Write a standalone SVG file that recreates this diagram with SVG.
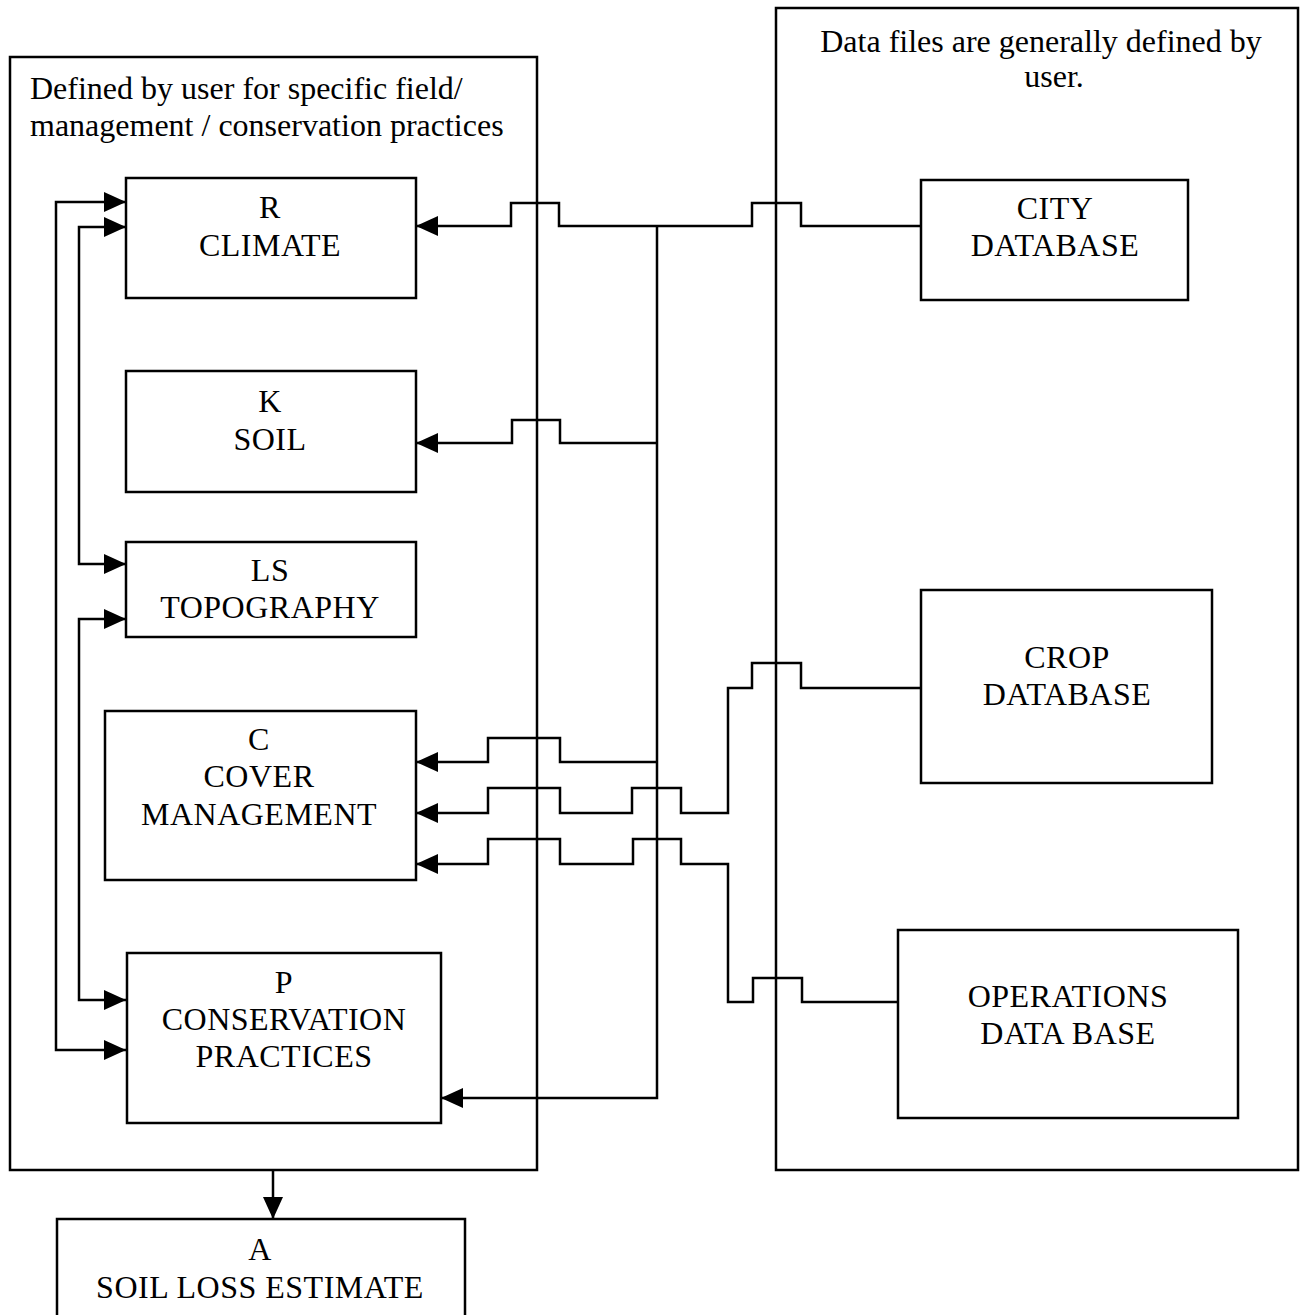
<svg xmlns="http://www.w3.org/2000/svg" width="1309" height="1315" viewBox="0 0 1309 1315">
<defs>
<style>
.box{fill:none;stroke:#000;stroke-width:2.5}
.cn{fill:none;stroke:#000;stroke-width:2.5}
text{font-family:"Liberation Serif","Times New Roman",serif;font-size:32px;fill:#000}
.c{text-anchor:middle}
.k{letter-spacing:0.5px}
</style>
<marker id="ah" viewBox="0 0 22 20" refX="22" refY="10" markerWidth="22" markerHeight="20" markerUnits="userSpaceOnUse" orient="auto-start-reverse">
<path d="M0,0 L22,10 L0,20 z" fill="#000"/>
</marker>
</defs>
<rect width="1309" height="1315" fill="#fff"/>
<g id="user-container">
<rect class="box" x="10" y="57" width="527" height="1113"/>
<text x="30" y="99">Defined by user for specific field/</text>
<text x="30" y="136">management / conservation practices</text>
</g>
<g id="data-container">
<rect class="box" x="776" y="8" width="522" height="1162"/>
<text class="c" x="1041" y="52">Data files are generally defined by</text>
<text class="c" x="1054" y="87">user.</text>
</g>
<g id="connectors">
<path class="cn" marker-end="url(#ah)" d="M921,226 H801 V203 H752 V226 H559 V203 H511 V226 H416"/>
<path class="cn" marker-end="url(#ah)" d="M657,226 V1098 H441"/>
<path class="cn" marker-end="url(#ah)" d="M657,443 H560 V420 H512 V443 H416"/>
<path class="cn" marker-end="url(#ah)" d="M657,762 H560 V738 H488 V762 H416"/>
<path class="cn" marker-end="url(#ah)" d="M921,688 H801 V663 H752 V688 H728 V813 H681 V788 H632 V813 H560 V788 H488 V813 H416"/>
<path class="cn" marker-end="url(#ah)" d="M898,1002 H802 V978 H753 V1002 H728 V864 H681 V839 H633 V864 H560 V839 H488 V864 H416"/>
<path class="cn" marker-start="url(#ah)" marker-end="url(#ah)" d="M126,202 H56 V1050 H126"/>
<path class="cn" marker-start="url(#ah)" marker-end="url(#ah)" d="M126,227 H79 V564 H126"/>
<path class="cn" marker-start="url(#ah)" marker-end="url(#ah)" d="M126,619 H79 V1000 H126"/>
<path class="cn" marker-end="url(#ah)" d="M273,1170 V1219"/>
</g>
<g id="node-r">
<rect class="box" x="126" y="178" width="290" height="120"/>
<text class="c k" x="270" y="218">R</text>
<text class="c k" x="270" y="256">CLIMATE</text>
</g>
<g id="node-k">
<rect class="box" x="126" y="371" width="290" height="121"/>
<text class="c k" x="270" y="412">K</text>
<text class="c k" x="270" y="450">SOIL</text>
</g>
<g id="node-ls">
<rect class="box" x="126" y="542" width="290" height="95"/>
<text class="c k" x="270" y="581">LS</text>
<text class="c k" x="270" y="618">TOPOGRAPHY</text>
</g>
<g id="node-c">
<rect class="box" x="105" y="711" width="311" height="169"/>
<text class="c k" x="259" y="750">C</text>
<text class="c k" x="259" y="787">COVER</text>
<text class="c k" x="259" y="825">MANAGEMENT</text>
</g>
<g id="node-p">
<rect class="box" x="127" y="953" width="314" height="170"/>
<text class="c k" x="284" y="993">P</text>
<text class="c k" x="284" y="1030">CONSERVATION</text>
<text class="c k" x="284" y="1067">PRACTICES</text>
</g>
<g id="node-a">
<rect class="box" x="57" y="1219" width="408" height="120"/>
<text class="c k" x="260" y="1260">A</text>
<text class="c k" x="260" y="1298">SOIL LOSS ESTIMATE</text>
</g>
<g id="node-city">
<rect class="box" x="921" y="180" width="267" height="120"/>
<text class="c k" x="1055" y="219">CITY</text>
<text class="c k" x="1055" y="256">DATABASE</text>
</g>
<g id="node-crop">
<rect class="box" x="921" y="590" width="291" height="193"/>
<text class="c k" x="1067" y="668">CROP</text>
<text class="c k" x="1067" y="705">DATABASE</text>
</g>
<g id="node-ops">
<rect class="box" x="898" y="930" width="340" height="188"/>
<text class="c k" x="1068" y="1007">OPERATIONS</text>
<text class="c k" x="1068" y="1044">DATA BASE</text>
</g>
</svg>
